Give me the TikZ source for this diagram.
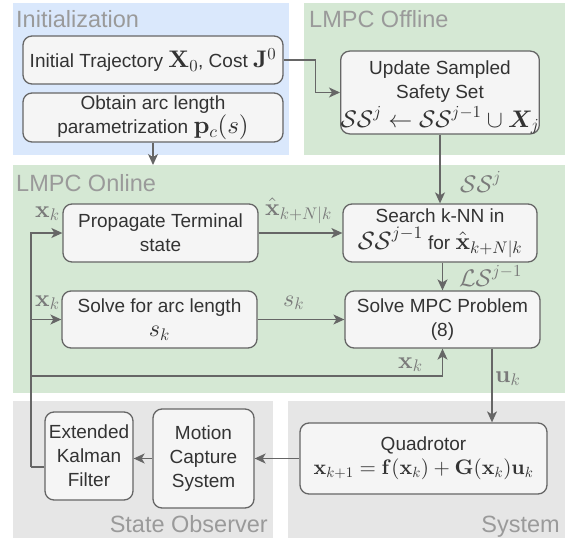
\documentclass[tikz,border=0pt]{standalone}
\usepackage{amsmath,bm}
\usepackage[no-math]{fontspec}
\setmainfont{Liberation Sans}
\DeclareFontShape{OT1}{cmr}{m}{n}{<-6>cmr5<6-8>cmr7<8->cmr10}{}
\DeclareFontShape{OT1}{cmr}{bx}{n}{<-6>cmbx5<6-8>cmbx7<8->cmbx10}{}
\DeclareFontShape{OML}{cmm}{m}{it}{<-6>cmmi5<6-8>cmmi7<8->cmmi10}{}
\DeclareFontShape{OML}{cmm}{b}{it}{<->cmmib10}{}
\DeclareFontShape{OMS}{cmsy}{m}{n}{<-6>cmsy5<6-8>cmsy7<8->cmsy10}{}
\DeclareFontShape{OMS}{cmsy}{b}{n}{<->cmbsy10}{}
\usetikzlibrary{arrows.meta,calc}
\definecolor{initblue}{HTML}{DAE8FC}
\definecolor{lmpcgreen}{HTML}{D5E8D4}
\definecolor{obsgray}{HTML}{E6E6E6}
\definecolor{boxfill}{HTML}{F5F5F5}
\definecolor{boxline}{HTML}{666666}
\definecolor{boxtext}{HTML}{333333}
\definecolor{titletext}{HTML}{9A9A9A}
\definecolor{labeltext}{HTML}{7A7A7A}
\newcommand{\mm}[2][24]{{\fontsize{#1}{#1}\selectfont$#2$}}
\tikzset{
  paneltitle/.style={text=titletext, font=\fontsize{23.5}{27}\selectfont, inner sep=0pt},
  blockbox/.style={draw=boxline, fill=boxfill, rounded corners=9pt, line width=1.3pt,
    text=boxtext, align=center, inner sep=0pt, font=\fontsize{19}{24}\selectfont},
  conn/.style={draw=boxline, line width=1.3pt},
  arr/.style={conn, -{Stealth[length=11pt,width=10pt,inset=3pt]}},
  elabel/.style={text=labeltext, inner sep=0pt, anchor=base west, font=\fontsize{24}{26}\selectfont},
}
\begin{document}
\begin{tikzpicture}[x=1pt,y=-1pt]
\useasboundingbox (0,0) rectangle (572,540);
% panels
\fill[initblue] (13,3) rectangle (289,155);
\fill[lmpcgreen] (304,3) rectangle (565,155);
\fill[lmpcgreen] (13,165) rectangle (565,393);
\fill[obsgray] (13,401) rectangle (273,538);
\fill[obsgray] (288,401) rectangle (565,538);
% panel titles
\node[paneltitle, anchor=base west] (tinit) at (16,28) {Initialization};
\node[paneltitle, anchor=base west] (toff) at (309,28) {LMPC Offline};
\node[paneltitle, anchor=base west] (ton) at (16,191) {LMPC Online};
\node[paneltitle, anchor=base east] (tobs) at (268,532) {State Observer};
\node[paneltitle, anchor=base east] (tsys) at (560,532) {System};
% boxes
\node[blockbox, minimum width=260pt, minimum height=48pt] (init) at (153,60)
  {Initial Trajectory \mm{\mathbf{X}_0}, Cost \mm{\mathbf{J}^0}};
\node[blockbox, minimum width=260pt, minimum height=49pt] (arc) at (153,117.5)
  {Obtain arc length\\parametrization \mm[25]{\mathbf{p}_c(s)}};
\node[blockbox, minimum width=194pt, minimum height=81pt] (update) at (440,92.5)
  {\rule{0pt}{23pt}Update Sampled\\Safety Set\\[3pt]\mm{\mathcal{SS}^j\leftarrow\mathcal{SS}^{j-1}\cup\bm{X}_j}};
\node[blockbox, minimum width=194pt, minimum height=58pt] (search) at (440,233)
  {Search k-NN in\\[3pt]\mm[25]{\mathcal{SS}^{j-1}} for \mm{\hat{\mathbf{x}}_{k+N|k}}};
\node[blockbox, minimum width=195pt, minimum height=57pt] (mpc) at (442.5,319.5)
  {Solve MPC Problem\\(8)};
\node[blockbox, minimum width=195pt, minimum height=58pt] (prop) at (160.5,233)
  {Propagate Terminal\\state};
\node[blockbox, minimum width=195pt, minimum height=57pt] (solvearc) at (159.5,319.5)
  {Solve for arc length\\\mm{s_k}};
\node[blockbox, minimum width=88pt, minimum height=88pt] (ekf) at (89,456)
  {Extended\\Kalman\\Filter};
\node[blockbox, minimum width=101pt, minimum height=99pt] (mocap) at (203.5,458.5)
  {Motion\\Capture\\System};
\node[blockbox, minimum width=247pt, minimum height=71pt] (quad) at (423.5,458.5)
  {Quadrotor\\\mm[21]{\mathbf{x}_{k+1}=\mathbf{f}(\mathbf{x}_k)+\mathbf{G}(\mathbf{x}_k)\mathbf{u}_k}};
% connectors
\draw[arr] (init.east) -- ++(32,0) |- (update.west);
\coordinate (arcend) at (153,165);
\draw[arr] (arc.south) -- (arcend);
\draw[arr] (update.south) -- (search.north);
\draw[arr] (prop.east) -- (search.west);
\draw[arr] (mpc.north |- search.south) -- (mpc.north);
\draw[arr] (solvearc.east) -- (solvearc.east -| mpc.west);
\coordinate (ekfout) at ([yshift=-11pt]ekf.west);
\coordinate (lft) at (31,467);
\coordinate (fb) at (31,376);
\draw[conn] (ekfout) -- (lft);
\draw[arr] (lft) |- (prop.west);
\draw[arr] (lft |- solvearc.west) -- (solvearc.west);
\draw[arr] (fb) -| (mpc.south);
\coordinate (uk) at ([xshift=49.5pt]mpc.south);
\draw[arr] (uk) -- (uk |- quad.north);
\draw[arr] (quad.west) -- (mocap.east);
\draw[arr] (mocap.west) -- (ekf.east |- mocap.west);
% connector labels
\node[elabel] (lss) at (460,192) {$\mathcal{SS}^j$};
\node[elabel] (lxhat) at (265,215) {$\hat{\mathbf{x}}_{k+N|k}$};
\node[elabel] (lls) at (459,286) {$\mathcal{LS}^{j-1}$};
\node[elabel] (lsk) at (283,306) {$s_k$};
\node[elabel] (lxk1) at (35,217) {$\mathbf{x}_k$};
\node[elabel] (lxk2) at (35,306) {$\mathbf{x}_k$};
\node[elabel] (lxk3) at (398,368) {$\mathbf{x}_k$};
\node[elabel] (luk) at (495,382) {$\mathbf{u}_k$};
\end{tikzpicture}
\end{document}
